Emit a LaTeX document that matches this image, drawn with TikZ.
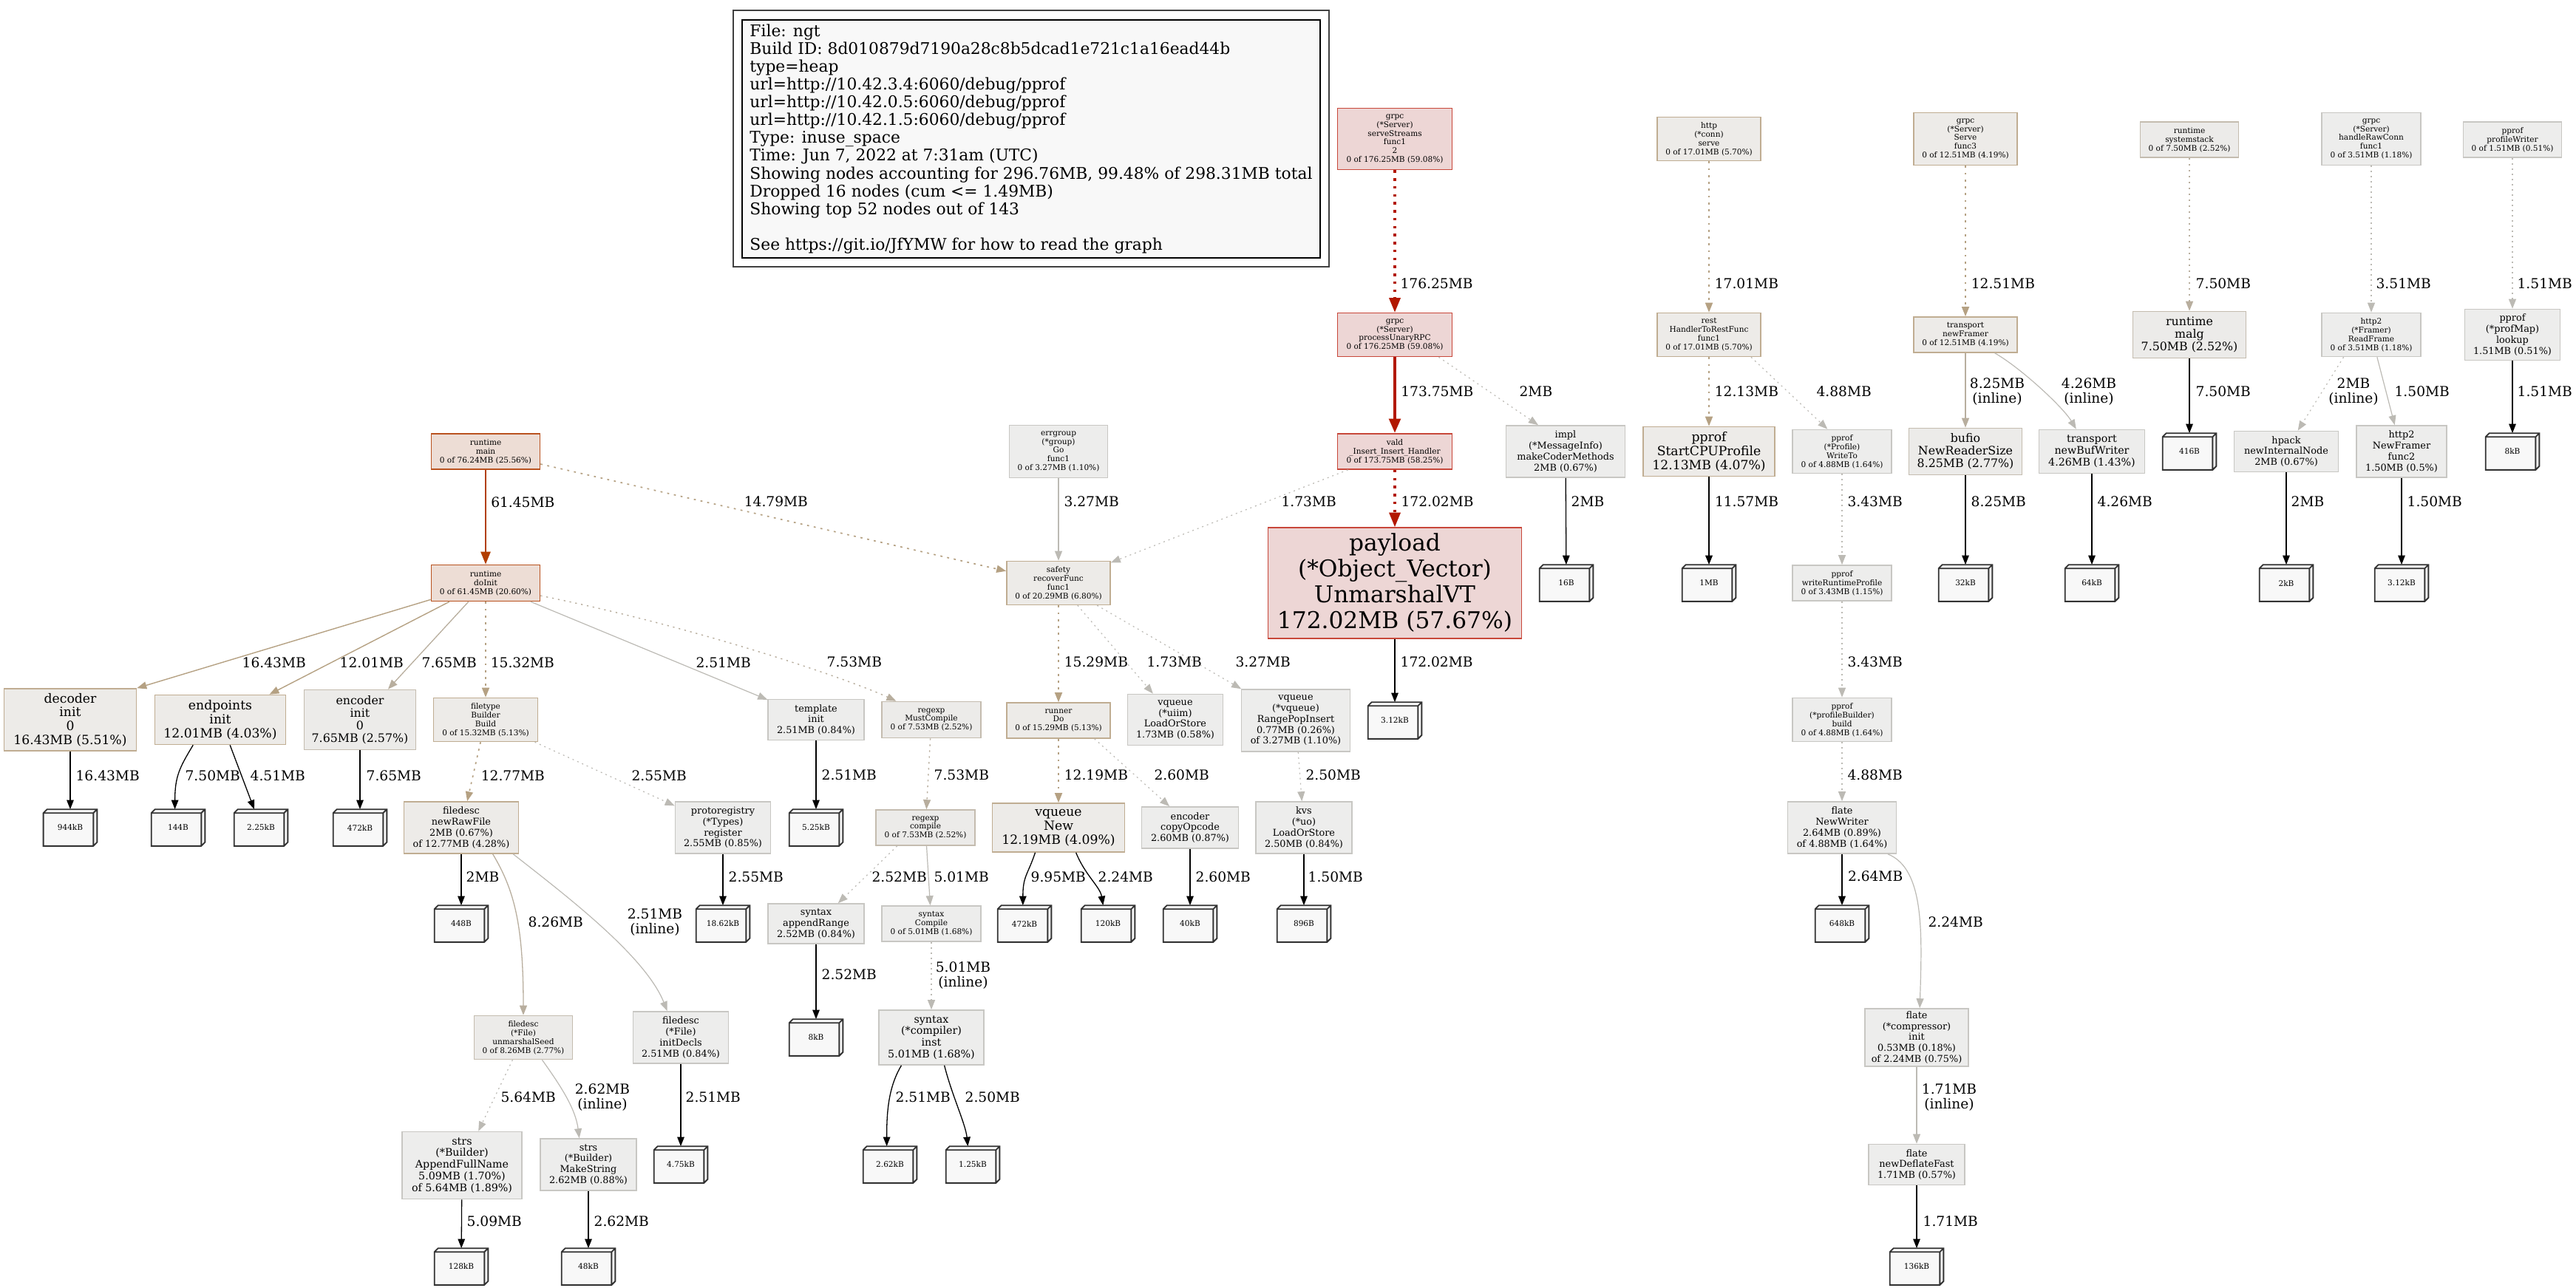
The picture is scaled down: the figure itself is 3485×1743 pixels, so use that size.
\documentclass[tikz,border=0pt]{standalone}
\usepackage{fontspec}
\setmainfont{DejaVu Serif}
\usepackage{tikz}
\usetikzlibrary{arrows.meta}

\definecolor{hotfill}{HTML}{EDD6D5}
\definecolor{hotline}{HTML}{C8473A}
\definecolor{hotedge}{HTML}{B21800}
\definecolor{warmfill}{HTML}{EDDDD5}
\definecolor{warmline}{HTML}{B9521F}
\definecolor{warmedge}{HTML}{B23E00}
\definecolor{tanfill}{HTML}{EDEBE8}
\definecolor{tanline}{HTML}{C0AD92}
\definecolor{tanedge}{HTML}{B5A183}
\definecolor{midfill}{HTML}{ECEBE9}
\definecolor{midline}{HTML}{C4BCAF}
\definecolor{midedge}{HTML}{B8AE9E}
\definecolor{greyfill}{HTML}{EDEDEC}
\definecolor{greyline}{HTML}{C8C7C3}
\definecolor{greyedge}{HTML}{BCBAB4}
\definecolor{memfill}{HTML}{F8F8F8}
\definecolor{memline}{HTML}{333333}

\newcommand{\ftiny}{\fontsize{6}{6.8}\selectfont}
\newcommand{\fsmall}{\fontsize{7.3}{8.4}\selectfont}
\newcommand{\fsmid}{\fontsize{8.1}{9}\selectfont}
\newcommand{\fmid}{\fontsize{9}{9.6}\selectfont}
\newcommand{\fbig}{\fontsize{9.8}{10.7}\selectfont}
\newcommand{\fhuge}{\fontsize{17.8}{19.9}\selectfont}
\newcommand{\fedge}{\fontsize{10.6}{11.6}\selectfont}
\newcommand{\flegend}{\fontsize{12.4}{13.7}\selectfont}
\newcommand{\fmem}{\fontsize{6}{7}\selectfont}

\begin{document}
\begin{tikzpicture}[
    x=0.2mm, y=-0.2mm,
    fn/.style={draw, rectangle, inner sep=0pt, align=center, line width=0.32mm},
    hotbox/.style={fn, fill=hotfill, draw=hotline},
    warmbox/.style={fn, fill=warmfill, draw=warmline},
    tanbox/.style={fn, fill=tanfill, draw=tanline},
    midbox/.style={fn, fill=midfill, draw=midline},
    greybox/.style={fn, fill=greyfill, draw=greyline},
    membox/.style={fill=memfill, inner sep=0pt, minimum width=14.4mm, minimum height=9.8mm, font=\fmem},
    wh/.style 2 args={minimum width=#1*0.2mm, minimum height=#2*0.2mm},
    tip/.style={-{Triangle[length=2.6mm, width=2mm]}},
    hotdash/.style={-{Triangle[length=3.9mm, width=3mm]}, draw=hotedge, line width=0.65mm, dash pattern=on 0.7mm off 1.45mm},
    hotsolid/.style={-{Triangle[length=3.9mm, width=3mm]}, draw=hotedge, line width=0.95mm},
    warmsolid/.style={-{Triangle[length=3.4mm, width=2.6mm]}, draw=warmedge, line width=0.5mm},
    tansolid/.style={tip, draw=tanedge, line width=0.28mm},
    tandot/.style={tip, draw=tanedge, line width=0.34mm, dash pattern=on 0.55mm off 1.3mm},
    midsolid/.style={tip, draw=midedge, line width=0.26mm},
    middot/.style={tip, draw=midedge, line width=0.28mm, dash pattern=on 0.45mm off 1.15mm},
    greysolid/.style={tip, draw=greyedge, line width=0.24mm},
    greydot/.style={tip, draw=greyedge, line width=0.24mm, dash pattern=on 0.4mm off 1mm},
    memarrow/.style={-{Triangle[length=2.5mm, width=1.9mm]}, draw=black, line width=0.26mm},
    elbl/.style={font=\fedge, inner sep=0pt, anchor=west},
    elblc/.style={font=\fedge, inner sep=0pt, align=center}
]
\useasboundingbox (0,0) rectangle (3485,1743);

\node[fn, draw=black, line width=0.3mm, fill=memfill, align=left, wh={782}{322}, font=\flegend] (legend) at (1395,188)
  {File: ngt\\Build ID: 8d010879d7190a28c8b5dcad1e721c1a16ead44b\\type=heap\\url=http://10.42.3.4:6060/debug/pprof\\url=http://10.42.0.5:6060/debug/pprof\\url=http://10.42.1.5:6060/debug/pprof\\Type: inuse\_space\\Time: Jun 7, 2022 at 7:31am (UTC)\\Showing nodes accounting for 296.76MB, 99.48\% of 298.31MB total\\Dropped 16 nodes (cum <= 1.49MB)\\Showing top 52 nodes out of 143\\[13.7pt]See https://git.io/JfYMW for how to read the graph};
\draw[black!75, line width=0.4mm] ([shift={(-11,-12)}]legend.north west) rectangle ([shift={(11,11)}]legend.south east);

\node[hotbox, wh={155}{83}, font=\ftiny] (ss) at (1887,188) {grpc\\(*Server)\\serveStreams\\func1\\2\\0 of 176.25MB (59.08\%)};
\node[hotbox, wh={155}{59}, font=\ftiny] (pur) at (1887,453) {grpc\\(*Server)\\processUnaryRPC\\0 of 176.25MB (59.08\%)};
\node[hotbox, wh={155}{48}, font=\ftiny] (ins) at (1887,611) {vald\\\_Insert\_Insert\_Handler\\0 of 173.75MB (58.25\%)};
\node[hotbox, wh={343}{150}, font=\fhuge] (pay) at (1887,789) {payload\\(*Object\_Vector)\\UnmarshalVT\\172.02MB (57.67\%)};
\node[membox] (m312a) at (1887,975) {3.12kB};
\node[greybox, wh={161}{70}, font=\fsmall] (impl) at (2118,611) {impl\\(*MessageInfo)\\makeCoderMethods\\2MB (0.67\%)};
\node[membox] (m16b) at (2119,789) {16B};

\node[tanbox, wh={140}{59}, font=\ftiny] (hsrv) at (2312,188) {http\\(*conn)\\serve\\0 of 17.01MB (5.70\%)};
\node[tanbox, wh={140}{59}, font=\ftiny] (rest) at (2312,453) {rest\\HandlerToRestFunc\\func1\\0 of 17.01MB (5.70\%)};
\node[tanbox, wh={178}{67}, font=\fbig] (cpu) at (2312,611) {pprof\\StartCPUProfile\\12.13MB (4.07\%)};
\node[membox] (m1mb) at (2312,789) {1MB};
\node[greybox, wh={134}{59}, font=\ftiny] (wto) at (2492,611) {pprof\\(*Profile)\\WriteTo\\0 of 4.88MB (1.64\%)};
\node[greybox, wh={134}{48}, font=\ftiny] (wrp) at (2492,789) {pprof\\writeRuntimeProfile\\0 of 3.43MB (1.15\%)};
\node[greybox, wh={134}{59}, font=\ftiny] (pbb) at (2492,974) {pprof\\(*profileBuilder)\\build\\0 of 4.88MB (1.64\%)};
\node[greybox, wh={147}{70}, font=\fsmall] (nwr) at (2492,1120) {flate\\NewWriter\\2.64MB (0.89\%)\\of 4.88MB (1.64\%)};
\node[membox] (m648) at (2492,1250) {648kB};
\node[greybox, wh={140}{78}, font=\fsmall] (comp) at (2593,1404) {flate\\(*compressor)\\init\\0.53MB (0.18\%)\\of 2.24MB (0.75\%)};
\node[greybox, wh={130}{55}, font=\fsmall] (ndf) at (2593,1576) {flate\\newDeflateFast\\1.71MB (0.57\%)};
\node[membox] (m136) at (2593,1714) {136kB};

\node[tanbox, wh={140}{71}, font=\ftiny] (serve3) at (2659,188) {grpc\\(*Server)\\Serve\\func3\\0 of 12.51MB (4.19\%)};
\node[tanbox, wh={140}{48}, font=\ftiny] (nfr) at (2659,453) {transport\\newFramer\\0 of 12.51MB (4.19\%)};
\node[midbox, wh={153}{63}, font=\fmid] (bufio) at (2659,611) {bufio\\NewReaderSize\\8.25MB (2.77\%)};
\node[membox] (m32) at (2659,789) {32kB};
\node[greybox, wh={143}{59}, font=\fsmid] (nbw) at (2830,611) {transport\\newBufWriter\\4.26MB (1.43\%)};
\node[membox] (m64) at (2830,789) {64kB};

\node[midbox, wh={133}{48}, font=\ftiny] (sysstk) at (2962,189) {runtime\\systemstack\\0 of 7.50MB (2.52\%)};
\node[midbox, wh={153}{63}, font=\fmid] (malg) at (2962,453) {runtime\\malg\\7.50MB (2.52\%)};
\node[membox] (m416) at (2962,611) {416B};
\node[greybox, wh={134}{71}, font=\ftiny] (hrc) at (3208,188) {grpc\\(*Server)\\handleRawConn\\func1\\0 of 3.51MB (1.18\%)};
\node[greybox, wh={134}{59}, font=\ftiny] (rdf) at (3208,453) {http2\\(*Framer)\\ReadFrame\\0 of 3.51MB (1.18\%)};
\node[greybox, wh={141}{55}, font=\fsmall] (hpack) at (3093,611) {hpack\\newInternalNode\\2MB (0.67\%)};
\node[greybox, wh={122}{70}, font=\fsmall] (nfr2) at (3249,611) {http2\\NewFramer\\func2\\1.50MB (0.5\%)};
\node[membox] (m2k) at (3093,789) {2kB};
\node[membox] (m312b) at (3249,789) {3.12kB};
\node[greybox, wh={133}{48}, font=\ftiny] (pw) at (3399,189) {pprof\\profileWriter\\0 of 1.51MB (0.51\%)};
\node[greybox, wh={129}{69}, font=\fsmall] (lookup) at (3399,453) {pprof\\(*profMap)\\lookup\\1.51MB (0.51\%)};
\node[membox] (m8kb) at (3399,611) {8kB};

\node[warmbox, wh={147}{48}, font=\ftiny] (rmain) at (657,611) {runtime\\main\\0 of 76.24MB (25.56\%)};
\node[warmbox, wh={147}{49}, font=\ftiny] (doinit) at (657,789) {runtime\\doInit\\0 of 61.45MB (20.60\%)};
\node[greybox, wh={133}{71}, font=\ftiny] (errg) at (1432,611) {errgroup\\(*group)\\Go\\func1\\0 of 3.27MB (1.10\%)};
\node[tanbox, wh={140}{59}, font=\ftiny] (safety) at (1432,789) {safety\\recoverFunc\\func1\\0 of 20.29MB (6.80\%)};

\node[tanbox, wh={179}{84}, font=\fbig] (dec) at (95,974) {decoder\\init\\0\\16.43MB (5.51\%)};
\node[tanbox, wh={177}{67}, font=\fbig] (endp) at (298,974) {endpoints\\init\\12.01MB (4.03\%)};
\node[midbox, wh={151}{81}, font=\fmid] (encinit) at (487,974) {encoder\\init\\0\\7.65MB (2.57\%)};
\node[tanbox, wh={141}{59}, font=\ftiny] (ftb) at (657,974) {filetype\\Builder\\Build\\0 of 15.32MB (5.13\%)};
\node[greybox, wh={130}{55}, font=\fsmall] (tmpl) at (1104,974) {template\\init\\2.51MB (0.84\%)};
\node[midbox, wh={134}{49}, font=\ftiny] (rxmust) at (1260,974) {regexp\\MustCompile\\0 of 7.53MB (2.52\%)};
\node[tanbox, wh={140}{48}, font=\ftiny] (runner) at (1432,975) {runner\\Do\\0 of 15.29MB (5.13\%)};
\node[greybox, wh={129}{69}, font=\fsmall] (uiim) at (1590,974) {vqueue\\(*uiim)\\LoadOrStore\\1.73MB (0.58\%)};
\node[greybox, wh={147}{84}, font=\fsmall] (rpi) at (1753,975) {vqueue\\(*vqueue)\\RangePopInsert\\0.77MB (0.26\%)\\of 3.27MB (1.10\%)};

\node[membox] (m944) at (95,1120) {944kB};
\node[membox] (m144) at (241,1120) {144B};
\node[membox] (m225) at (353,1120) {2.25kB};
\node[membox] (m472a) at (487,1120) {472kB};
\node[tanbox, wh={155}{70}, font=\fsmall] (nrf) at (624,1120) {filedesc\\newRawFile\\2MB (0.67\%)\\of 12.77MB (4.28\%)};
\node[greybox, wh={129}{70}, font=\fsmall] (preg) at (978,1120) {protoregistry\\(*Types)\\register\\2.55MB (0.85\%)};
\node[membox] (m525) at (1104,1120) {5.25kB};
\node[midbox, wh={134}{48}, font=\ftiny] (rxcomp) at (1252,1120) {regexp\\compile\\0 of 7.53MB (2.52\%)};
\node[tanbox, wh={179}{66}, font=\fbig] (vqnew) at (1432,1120) {vqueue\\New\\12.19MB (4.09\%)};
\node[greybox, wh={131}{56}, font=\fsmall] (copyop) at (1610,1120) {encoder\\copyOpcode\\2.60MB (0.87\%)};
\node[greybox, wh={130}{70}, font=\fsmall] (kvs) at (1764,1120) {kvs\\(*uo)\\LoadOrStore\\2.50MB (0.84\%)};

\node[membox] (m448) at (624,1250) {448B};
\node[membox] (m1862) at (978,1250) {18.62kB};
\node[greybox, wh={130}{54}, font=\fsmall] (apr) at (1104,1250) {syntax\\appendRange\\2.52MB (0.84\%)};
\node[greybox, wh={134}{48}, font=\ftiny] (syncomp) at (1260,1250) {syntax\\Compile\\0 of 5.01MB (1.68\%)};
\node[membox] (m472b) at (1386,1250) {472kB};
\node[membox] (m120) at (1499,1250) {120kB};
\node[membox] (m40) at (1610,1250) {40kB};
\node[membox] (m896) at (1764,1250) {896B};

\node[midbox, wh={133}{59}, font=\ftiny] (useed) at (708,1404) {filedesc\\(*File)\\unmarshalSeed\\0 of 8.26MB (2.77\%)};
\node[greybox, wh={129}{70}, font=\fsmall] (idecl) at (921,1404) {filedesc\\(*File)\\initDecls\\2.51MB (0.84\%)};
\node[membox] (m8ka) at (1104,1404) {8kB};
\node[greybox, wh={142}{74}, font=\fsmid] (inst) at (1260,1404) {syntax\\(*compiler)\\inst\\5.01MB (1.68\%)};
\node[greybox, wh={162}{91}, font=\fsmid] (afn) at (625,1577) {strs\\(*Builder)\\AppendFullName\\5.09MB (1.70\%)\\of 5.64MB (1.89\%)};
\node[greybox, wh={130}{70}, font=\fsmall] (mks) at (796,1576) {strs\\(*Builder)\\MakeString\\2.62MB (0.88\%)};
\node[membox] (m475) at (921,1576) {4.75kB};
\node[membox] (m262) at (1204,1576) {2.62kB};
\node[membox] (m125) at (1316,1576) {1.25kB};
\node[membox] (m128) at (624,1714) {128kB};
\node[membox] (m48) at (796,1714) {48kB};

\draw[hotdash] (ss) -- (pur) node[elbl] at (1893,384) {176.25MB};
\draw[hotsolid] (pur) -- (ins) node[elbl] at (1893,530) {173.75MB};
\draw[hotdash] (ins) -- (pay) node[elbl] at (1894,679) {172.02MB};
\draw[memarrow] (pay) -- (m312a) node[elbl] at (1894,896) {172.02MB};
\draw[greydot] (pur.-27) -- (impl.136) node[elbl] at (2055,530) {2MB};
\draw[memarrow] (impl) -- (m16b) node[elbl] at (2125,679) {2MB};
\draw[greydot] (ins) -- (safety) node[elbl] at (1733,679) {1.73MB};

\draw[warmsolid] (rmain) -- (doinit) node[elbl] at (663,680) {61.45MB};
\draw[tandot] (rmain) -- (safety) node[elbl] at (1006,679) {14.79MB};
\draw[greysolid] (errg) -- (safety) node[elbl] at (1439,679) {3.27MB};
\draw[tansolid] (doinit) -- (dec.north east) node[elbl] at (327,897) {16.43MB};
\draw[tansolid] (doinit) -- (endp) node[elbl] at (459,897) {12.01MB};
\draw[midsolid] (doinit) -- (encinit) node[elbl] at (570,897) {7.65MB};
\draw[tandot] (doinit) -- (ftb) node[elbl] at (663,897) {15.32MB};
\draw[greysolid] (doinit) -- (tmpl) node[elbl] at (941,897) {2.51MB};
\draw[middot] (doinit.-13) .. controls +(200,40) and +(-72,-33) .. (rxmust.152) node[elbl] at (1118,896) {7.53MB};
\draw[tandot] (safety) -- (runner) node[elbl] at (1439,896) {15.29MB};
\draw[greydot] (safety) -- (uiim) node[elbl] at (1551,896) {1.73MB};
\draw[greydot] (safety) -- (rpi) node[elbl] at (1671,896) {3.27MB};

\draw[memarrow] (dec) -- (m944) node[elbl] at (102,1050) {16.43MB};
\draw[memarrow] (endp.-137) .. controls +(-18,30) and +(0,-45) .. (m144.100) node[elbl] at (250,1050) {7.50MB};
\draw[memarrow] (endp.-69) -- (m225.110) node[elbl] at (338,1050) {4.51MB};
\draw[memarrow] (encinit) -- (m472a) node[elbl] at (495,1050) {7.65MB};
\draw[tandot] (ftb) -- (nrf) node[elbl] at (650,1050) {12.77MB};
\draw[greydot] (ftb) -- (preg) node[elbl] at (854,1050) {2.55MB};
\draw[memarrow] (tmpl) -- (m525) node[elbl] at (1111,1049) {2.51MB};
\draw[middot] (rxmust) -- (rxcomp) node[elbl] at (1263,1049) {7.53MB};
\draw[tandot] (runner) -- (vqnew) node[elbl] at (1439,1049) {12.19MB};
\draw[greydot] (runner.-27) -- (copyop.134) node[elbl] at (1561,1049) {2.60MB};
\draw[greydot] (rpi) -- (kvs) node[elbl] at (1766,1049) {2.50MB};

\draw[memarrow] (nrf) -- (m448) node[elbl] at (630,1187) {2MB};
\draw[midsolid] (nrf.-40) .. controls +(30,50) and +(0,-120) .. (useed.north) node[elbl] at (714,1248) {8.26MB};
\draw[greysolid] (nrf.-27) .. controls +(70,55) and +(-30,-75) .. (idecl.117) node[elblc] at (886,1248) {2.51MB\\(inline)};
\draw[memarrow] (preg) -- (m1862) node[elbl] at (985,1187) {2.55MB};
\draw[greydot] (rxcomp.-147) -- (apr.43) node[elbl] at (1179,1187) {2.52MB};
\draw[greysolid] (rxcomp) -- (syncomp) node[elbl] at (1263,1187) {5.01MB};
\draw[memarrow] (vqnew.-133) .. controls +(-10,30) and +(0,-40) .. (m472b.95) node[elbl] at (1394,1187) {9.95MB};
\draw[memarrow] (vqnew.-55) .. controls +(12,30) and +(-4,-25) .. (m120.105) node[elbl] at (1485,1187) {2.24MB};
\draw[memarrow] (copyop) -- (m40) node[elbl] at (1617,1187) {2.60MB};
\draw[memarrow] (kvs) -- (m896) node[elbl] at (1769,1187) {1.50MB};

\draw[memarrow] (apr) -- (m8ka) node[elbl] at (1111,1319) {2.52MB};
\draw[greydot] (syncomp) -- (inst) node[elblc] at (1303,1320) {5.01MB\\(inline)};
\draw[greydot] (useed) -- (afn) node[elbl] at (677,1485) {5.64MB};
\draw[greysolid] (useed.-50) .. controls +(25,35) and +(-5,-40) .. (mks.109) node[elblc] at (815,1485) {2.62MB\\(inline)};
\draw[memarrow] (idecl) -- (m475) node[elbl] at (927,1485) {2.51MB};
\draw[memarrow] (inst.-137) .. controls +(-18,30) and +(0,-45) .. (m262.100) node[elbl] at (1211,1485) {2.51MB};
\draw[memarrow] (inst.-65) .. controls +(10,40) and +(-3,-30) .. (m125.105) node[elbl] at (1305,1485) {2.50MB};
\draw[memarrow] (afn) -- (m128) node[elbl] at (631,1653) {5.09MB};
\draw[memarrow] (mks) -- (m48) node[elbl] at (803,1653) {2.62MB};

\draw[tandot] (hsrv) -- (rest) node[elbl] at (2319,384) {17.01MB};
\draw[tandot] (rest) -- (cpu) node[elbl] at (2319,530) {12.13MB};
\draw[greydot] (rest.-28) -- (wto.123) node[elbl] at (2457,530) {4.88MB};
\draw[memarrow, line width=0.4mm] (cpu) -- (m1mb) node[elbl] at (2319,679) {11.57MB};
\draw[greydot] (wto) -- (wrp) node[elbl] at (2499,679) {3.43MB};
\draw[greydot] (wrp) -- (pbb) node[elbl] at (2499,896) {3.43MB};
\draw[greydot] (pbb) -- (nwr) node[elbl] at (2499,1049) {4.88MB};
\draw[memarrow, line width=0.4mm] (nwr) -- (m648) node[elbl] at (2499,1186) {2.64MB};
\draw[greysolid] (nwr.-30) .. controls +(50,20) and +(3,-100) .. (comp.84) node[elbl] at (2608,1248) {2.24MB};
\draw[greysolid] (comp) -- (ndf) node[elblc] at (2637,1485) {1.71MB\\(inline)};
\draw[memarrow] (ndf) -- (m136) node[elbl] at (2601,1653) {1.71MB};

\draw[tandot] (serve3) -- (nfr) node[elbl] at (2666,384) {12.51MB};
\draw[midsolid] (nfr) -- (bufio) node[elblc] at (2702,530) {8.25MB\\(inline)};
\draw[greysolid] (nfr.-32) .. controls +(35,20) and +(-18,-30) .. (nbw.125) node[elblc] at (2826,530) {4.26MB\\(inline)};
\draw[memarrow] (bufio) -- (m32) node[elbl] at (2666,679) {8.25MB};
\draw[memarrow] (nbw) -- (m64) node[elbl] at (2837,679) {4.26MB};
\draw[middot] (sysstk) -- (malg) node[elbl] at (2970,384) {7.50MB};
\draw[memarrow] (malg) -- (m416) node[elbl] at (2970,530) {7.50MB};
\draw[greydot] (hrc) -- (rdf) node[elbl] at (3214,384) {3.51MB};
\draw[greydot] (rdf.-141) -- (hpack.61) node[elblc] at (3184,530) {2MB\\(inline)};
\draw[greysolid] (rdf) -- (nfr2) node[elbl] at (3239,530) {1.50MB};
\draw[memarrow] (hpack) -- (m2k) node[elbl] at (3099,679) {2MB};
\draw[memarrow] (nfr2) -- (m312b) node[elbl] at (3256,679) {1.50MB};
\draw[greydot] (pw) -- (lookup) node[elbl] at (3405,384) {1.51MB};
\draw[memarrow] (lookup) -- (m8kb) node[elbl] at (3405,530) {1.51MB};

\foreach \m in {m16b,m312a,m1mb,m648,m136,m32,m64,m416,m2k,m312b,m8kb,m944,m144,m225,m472a,m525,m448,m1862,m472b,m120,m40,m896,m8ka,m475,m262,m125,m128,m48}
  \draw[memline, line width=0.36mm]
    (\m.south west) -- ([yshift=-1mm]\m.north west) -- ([xshift=1mm]\m.north west) -- (\m.north east)
    -- ([yshift=1mm]\m.south east) -- ([xshift=-1mm]\m.south east) -- cycle
    ([yshift=-1mm]\m.north west) -- ([shift={(-1mm,-1mm)}]\m.north east) -- ([xshift=-1mm]\m.south east)
    ([shift={(-1mm,-1mm)}]\m.north east) -- (\m.north east);

\end{tikzpicture}
\end{document}
